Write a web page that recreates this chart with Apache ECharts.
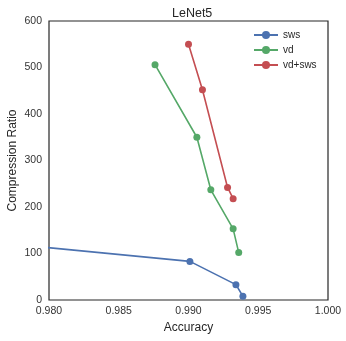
<!DOCTYPE html>
<html>
<head>
<meta charset="utf-8">
<script src="https://cdn.jsdelivr.net/npm/echarts@6/dist/echarts.min.js"></script>
<style>
    html, body { margin: 0; padding: 0; background: #fff; }
    #chart { width: 346px; height: 341px; }
</style>
</head>
<body>
<div id="chart"></div>
<script>
var seriesNames = ['sws', 'vd', 'vd+sws'];
var seriesColors = ['#4C72B0', '#55A868', '#C44E52'];

// [accuracy, compression ratio]
var swsData = [[0.975, 127], [0.9901, 83], [0.9934, 33], [0.9939, 8]];
var vdData = [[0.9876, 506], [0.9906, 350], [0.9916, 237], [0.9932, 153], [0.9936, 102]];
var vdSwsData = [[0.9900, 550], [0.9910, 452], [0.9928, 242], [0.9932, 218]];

var xMin = 0.98, xMax = 1.0, xStep = 0.005;
var yMin = 0, yMax = 600, yStep = 100;

var font = 'Liberation Sans, Arial, sans-serif';
var textColor = '#262626';

var chart = echarts.init(document.getElementById('chart'));

function makeSeries(name, data, color) {
    return {
        name: name,
        type: 'line',
        data: data,
        symbol: 'circle',
        symbolSize: 7,
        clip: true,
        animation: false,
        itemStyle: {color: color},
        lineStyle: {color: color, width: 1.6}
    };
}

var option = {
    backgroundColor: '#fff',
    color: seriesColors,
    title: {
        text: 'LeNet5',
        left: 167,
        top: 2,
        textStyle: {fontFamily: font, fontSize: 12.5, fontWeight: 'normal', color: textColor}
    },
    legend: {
        orient: 'vertical',
        left: 248,
        top: 25,
        itemWidth: 24,
        itemHeight: 10,
        itemGap: 5,
        data: seriesNames,
        textStyle: {fontFamily: font, fontSize: 10, color: textColor}
    },
    grid: {
        left: 49,
        right: 18,
        top: 21,
        bottom: 41,
        outerBoundsMode: 'none',
        containLabel: false,
        show: true,
        borderColor: '#262626',
        borderWidth: 1.2,
        backgroundColor: '#fff'
    },
    xAxis: {
        type: 'value',
        min: xMin,
        max: xMax,
        interval: xStep,
        name: 'Accuracy',
        nameLocation: 'middle',
        nameGap: 22,
        nameMoveOverlap: false,
        nameTextStyle: {fontFamily: font, fontSize: 12, color: textColor},
        axisLine: {show: false},
        axisTick: {show: false},
        splitLine: {show: false},
        axisLabel: {
            fontFamily: font,
            fontSize: 10.5,
            color: '#333',
            margin: 6,
            formatter: function (v) { return v.toFixed(3); }
        }
    },
    yAxis: {
        type: 'value',
        min: yMin,
        max: yMax,
        interval: yStep,
        name: 'Compression Ratio',
        nameLocation: 'middle',
        nameGap: 30,
        nameMoveOverlap: false,
        nameTextStyle: {fontFamily: font, fontSize: 12, color: textColor},
        axisLine: {show: false},
        axisTick: {show: false},
        splitLine: {show: false},
        axisLabel: {fontFamily: font, fontSize: 10.5, color: '#333', margin: 7}
    },
    series: [
        makeSeries(seriesNames[0], swsData, seriesColors[0]),
        makeSeries(seriesNames[1], vdData, seriesColors[1]),
        makeSeries(seriesNames[2], vdSwsData, seriesColors[2])
    ]
};

chart.setOption(option);
</script>
</body>
</html>
